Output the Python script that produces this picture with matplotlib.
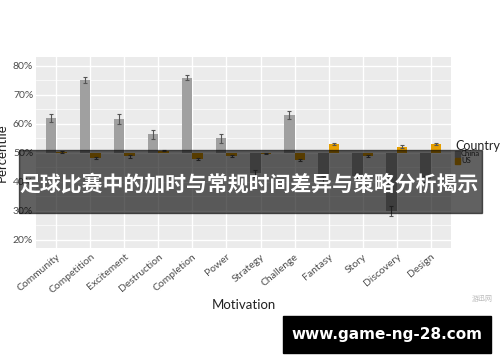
import numpy as np
import matplotlib
matplotlib.use('Agg')
import matplotlib.pyplot as plt
from matplotlib.patches import Rectangle

plt.rcParams['font.family'] = ['Lato', 'DejaVu Sans']

motivations = ['Community', 'Competition', 'Excitement', 'Destruction', 'Completion', 'Power',
               'Strategy', 'Challenge', 'Fantasy', 'Story', 'Discovery', 'Design']
china = [62, 75.2, 61.7, 56.4, 76, 55, 43, 63.1, 41, 42, 30, 41]
china_err = [1.3, 1.0, 1.6, 1.5, 1.0, 1.6, 1.2, 1.5, 1.2, 1.2, 1.6, 1.2]
us = [50.2, 48.3, 48.8, 50.8, 47.8, 48.9, 49.8, 47.6, 53, 48.9, 52.2, 53]
us_err = [0.3, 0.4, 0.4, 0.3, 0.4, 0.4, 0.3, 0.4, 0.4, 0.4, 0.4, 0.4]
yticks = [20, 30, 40, 50, 60, 70, 80]
title = '足球比赛中的加时与常规时间差异与策略分析揭示'
site = 'www.game-ng-28.com'

c_china = '#a0a0a0'
c_us = '#e69f00'

fig = plt.figure(figsize=(5, 3.62), dpi=100)
ax = fig.add_axes([36 / 500, 1 - 248 / 362, 415 / 500, 191 / 362])
ax.set_facecolor('#ebebeb')

x = np.arange(len(motivations))
w = 0.32
ax.bar(x - w / 2, np.array(china) - 50, w, bottom=50, color=c_china, zorder=3)
ax.bar(x + w / 2, np.array(us) - 50, w, bottom=50, color=c_us, zorder=3)
ax.errorbar(x - w / 2, china, yerr=china_err, fmt='none', ecolor='#555555', elinewidth=0.8,
            capsize=1.5, capthick=0.8, zorder=4)
ax.errorbar(x + w / 2, us, yerr=us_err, fmt='none', ecolor='#555555', elinewidth=0.8,
            capsize=1.5, capthick=0.8, zorder=4)

ax.set_xlim(-0.6, len(motivations) - 0.4)
ax.set_ylim(17.2, 83.1)
ax.set_yticks(yticks)
ax.set_yticklabels(['%d%%' % t for t in yticks])
ax.set_yticks([25, 35, 45, 55, 65, 75], minor=True)
ax.set_xticks(x)
ax.set_xticklabels(motivations, rotation=40, ha='right', rotation_mode='anchor')
ax.grid(True, which='major', color='white', lw=1.0, zorder=0)
ax.grid(True, which='minor', axis='y', color='white', lw=0.5, zorder=0)
for s in ax.spines.values():
    s.set_visible(False)
ax.tick_params(axis='both', which='both', length=0, labelsize=7.5, labelcolor='#4d4d4d', pad=2)
ax.tick_params(axis='x', pad=3)
ax.set_xlabel('Motivation', fontsize=9.5, color='#222222', labelpad=3)
ax.set_ylabel('Percentile', fontsize=9.5, color='#222222')
ax.yaxis.set_label_coords(-28 / 415, 0.5)

# legend
fig.text(455 / 500, 1 - 146 / 362, 'Country', fontsize=9, color='#222222', va='center')
fig.patches.append(Rectangle((455 / 500, 1 - 157 / 362), 5 / 500, 6 / 362,
                             transform=fig.transFigure, color=c_china, zorder=5))
fig.patches.append(Rectangle((455 / 500, 1 - 164 / 362), 5 / 500, 6 / 362,
                             transform=fig.transFigure, color=c_us, zorder=5))
fig.text(461 / 500, 1 - 154 / 362, 'China', fontsize=5.5, color='#333333', va='center', zorder=5)
fig.text(461 / 500, 1 - 161 / 362, 'US', fontsize=5.5, color='#333333', va='center', zorder=5)

# banner overlay
fig.patches.append(Rectangle((19 / 500, 1 - 213 / 362), 463 / 500, 63 / 362,
                             transform=fig.transFigure, color='black', alpha=0.62, zorder=10))
fig.text(249 / 500, 1 - 184 / 362, title, fontsize=15, fontweight='bold', color='white',
         ha='center', va='center', family=['Noto Sans CJK SC', 'DejaVu Sans'], zorder=11)

# watermark
fig.patches.append(Rectangle((283 / 500, 1 - 353 / 362), 208 / 500, 37 / 362,
                             transform=fig.transFigure, color='black', zorder=10))
fig.text(387 / 500, 1 - 334 / 362, site, fontsize=11, fontweight='bold', color='white',
         ha='center', va='center', family=['DejaVu Sans'], zorder=11)
fig.text(482 / 500, 1 - 299 / 362, '游迅网', fontsize=5, color='#bbbbbb',
         ha='center', va='center', family=['Noto Sans CJK SC'])

fig.savefig('out.png', dpi=100)
